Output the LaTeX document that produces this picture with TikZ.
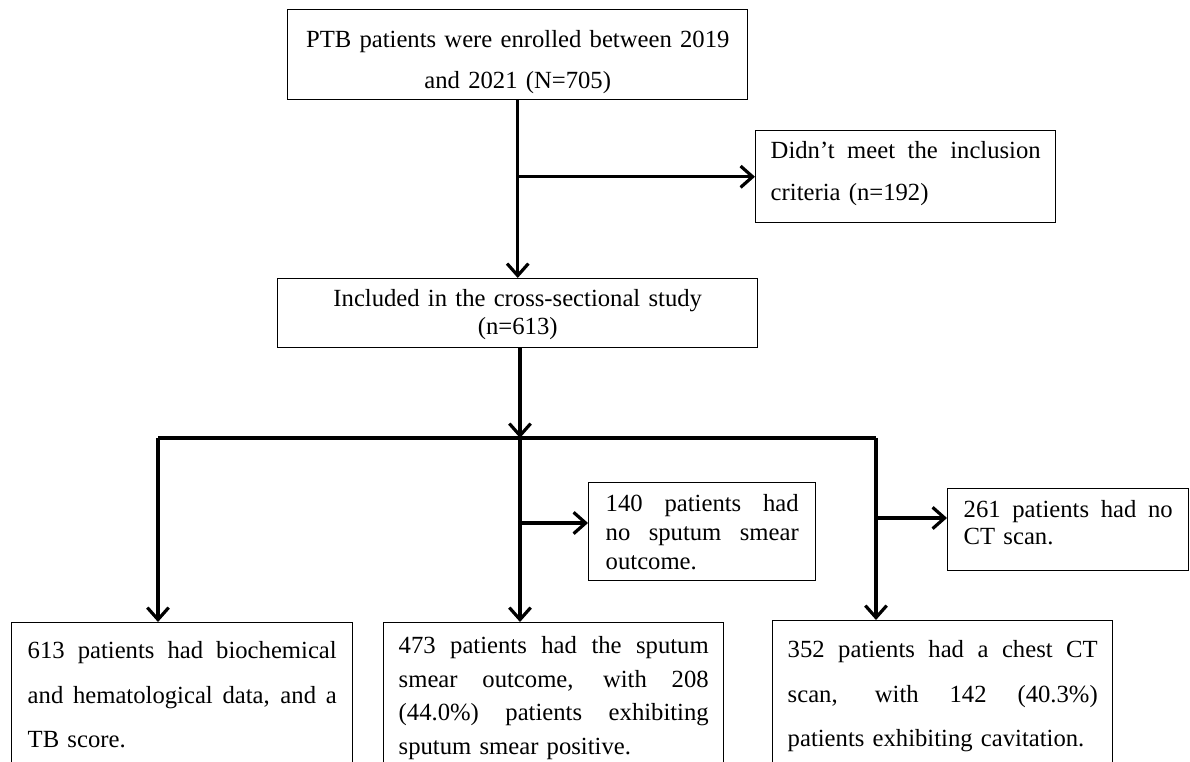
\documentclass[tikz,border=0pt]{standalone}
\usepackage{fontspec}
\setmainfont{Liberation Serif}
\usetikzlibrary{arrows.meta}
\newcommand\jline[2]{\leavevmode\hbox to #1{\spaceskip=0.25em plus 1fil\relax #2}}
\begin{document}
\begin{tikzpicture}[x=0.75pt,y=-0.75pt,
  box/.style={draw, line width=1.1pt, anchor=north west, inner ysep=0pt, align=left},
  fs/.style={font=\fontsize{18.5pt}{#1}\selectfont},
  arr/.style={line width=2.6pt, -{Straight Barb[length=9pt,width=16pt,line width=2.4pt]}},
  ln/.style={line width=2.6pt}]
\useasboundingbox (0,0) rectangle (1190,762);
% boxes
\node[box, align=center, fs=30.75pt, text width=318pt, inner xsep=13.5pt, text height=28.5pt, text depth=39pt] (top) at (287,9)
  {PTB patients were enrolled between 2019\\ and 2021 (N=705)};
\node[box, fs=31.5pt, text width=202.5pt, inner xsep=11.25pt, text height=21pt, text depth=48pt] (didnt) at (755,130)
  {\jline{202.5pt}{Didn’t meet the inclusion}\\ criteria (n=192)};
\node[box, align=center, fs=21pt, text width=330pt, inner xsep=15pt, text height=21pt, text depth=30.75pt] (incl) at (277,278)
  {Included in the cross-sectional study\\ (n=613)};
\node[box, fs=21.75pt, text width=144.75pt, inner xsep=12.75pt, text height=21.75pt, text depth=51.75pt] (n140) at (588,482)
  {\jline{144.75pt}{140 patients had}\\ \jline{144.75pt}{no sputum smear}\\ outcome.};
\node[box, fs=20.25pt, text width=156.75pt, inner xsep=12pt, text height=21.75pt, text depth=39.75pt] (n261) at (947,488)
  {\jline{156.75pt}{261 patients had no}\\ CT scan.};
\node[box, fs=33.4pt, text width=231.75pt, inner xsep=12pt, text height=27pt, text depth=87.75pt] (b1) at (11,622)
  {\jline{231.75pt}{613 patients had biochemical}\\ \jline{231.75pt}{and hematological data, and a}\\ TB score.};
\node[box, fs=25.1pt, text width=232.5pt, inner xsep=11.25pt, text height=23.25pt, text depth=91.5pt] (b2) at (383,622)
  {\jline{232.5pt}{473 patients had the sputum}\\ \jline{232.5pt}{smear outcome, with 208}\\ \jline{232.5pt}{(44.0\%) patients exhibiting}\\ sputum smear positive.};
\node[box, fs=33.4pt, text width=232.5pt, inner xsep=11.25pt, text height=27.75pt, text depth=88.5pt] (b3) at (772,620)
  {\jline{232.5pt}{352 patients had a chest CT}\\ \jline{232.5pt}{scan, with 142 (40.3\%)}\\ patients exhibiting cavitation.};
% connectors
\draw[arr] (top.south) -- (incl.north);
\coordinate (j1) at (top.south |- didnt.west);
\draw[arr] (j1) -- (didnt.west);
\coordinate (hub) at (520,438);
\coordinate (hl) at (158,438);
\coordinate (hr) at (876,438);
\draw[arr] (hub |- incl.south) -- (hub);
\draw[ln] (hl) -- (hr);
\draw[arr] (hl) -- (hl |- b1.north);
\draw[arr] (hub) -- (hub |- b2.north);
\draw[arr] (hr) -- (hr |- b3.north);
\coordinate (m1) at (520,523);
\draw[arr] (m1) -- (m1 -| n140.west);
\coordinate (r1) at (876,518);
\draw[arr] (r1) -- (r1 -| n261.west);
\end{tikzpicture}
\end{document}
